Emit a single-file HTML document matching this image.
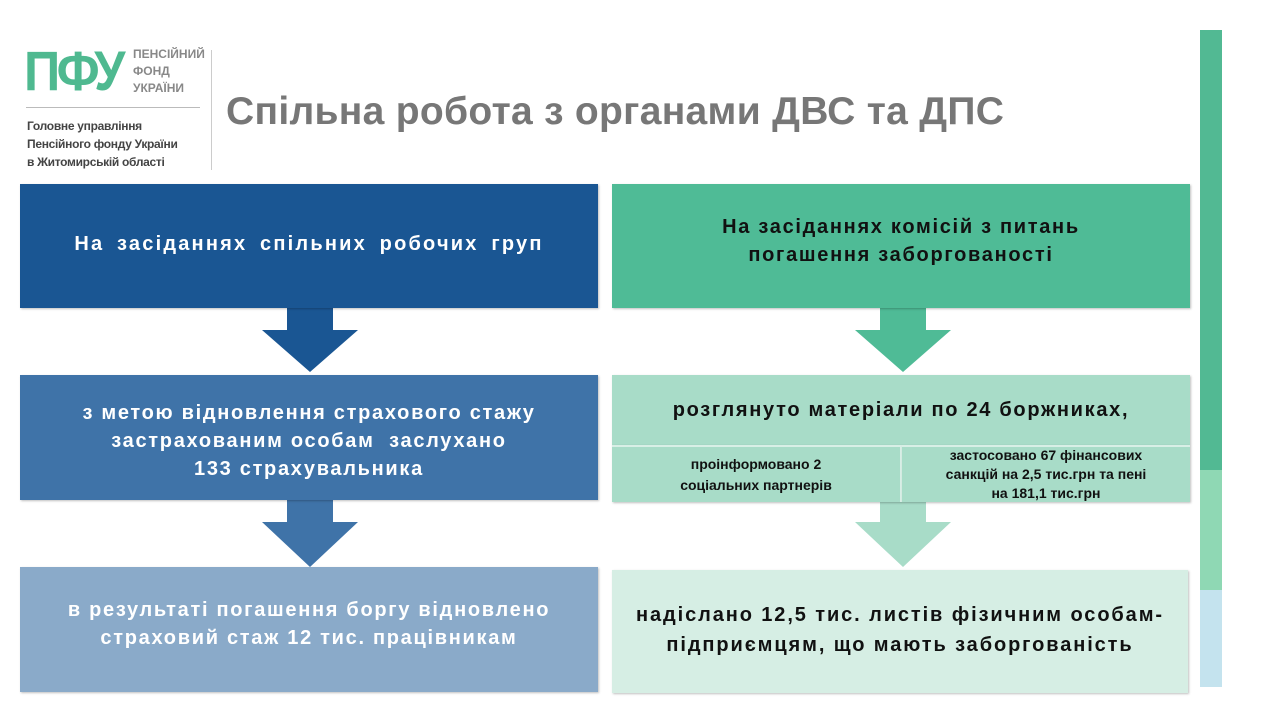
<!DOCTYPE html>
<html><head><meta charset="utf-8"><style>
body{margin:0;width:1280px;height:720px;background:#fff;position:relative;overflow:hidden;font-family:"Liberation Sans","DejaVu Sans",sans-serif}
.a{position:absolute}
.box{position:absolute;display:flex;align-items:center;justify-content:center;text-align:center;font-weight:bold;box-sizing:border-box;box-shadow:1px 1px 2px rgba(0,0,0,.25);white-space:nowrap}
.w{color:#fff;font-size:20px;line-height:28px;letter-spacing:1.7px}
.k{color:#111;font-size:20px;letter-spacing:1.7px}
</style></head><body>
<div class="a" style="left:24px;top:40px;font-size:56px;font-weight:bold;color:#4fb990;letter-spacing:-4px;line-height:62px;transform:scaleX(0.9);transform-origin:left">ПФУ</div>
<div class="a" style="left:133px;top:46px;font-size:12px;font-weight:bold;color:#888;line-height:17px">ПЕНСІЙНИЙ<br>ФОНД<br>УКРАЇНИ</div>
<div class="a" style="left:26px;top:107px;width:174px;height:1px;background:#bbb"></div>
<div class="a" style="left:27px;top:117px;font-size:12px;font-weight:bold;color:#444;line-height:18px;letter-spacing:-0.3px">Головне управління<br>Пенсійного фонду України<br>в Житомирській області</div>
<div class="a" style="left:211px;top:50px;width:1px;height:120px;background:#ccc"></div>
<div class="a" style="left:226px;top:90px;font-size:39px;font-weight:bold;color:#777;letter-spacing:0.3px">Спільна робота з органами ДВС та ДПС</div>
<div class="a" style="left:1200px;top:30px;width:22px;height:440px;background:#52b993"></div>
<div class="a" style="left:1200px;top:470px;width:22px;height:120px;background:#8fd8b4"></div>
<div class="a" style="left:1200px;top:590px;width:22px;height:97px;background:#c4e3ee"></div>
<svg class="a" style="left:0;top:0" width="1280" height="720">
<path d="M287 305h46v25h25l-48 42-48-42h25z" fill="#1a5693"/>
<path d="M287 498h46v24h25l-48 45-48-45h25z" fill="#3f73a8"/>
<path d="M880 305h46v25h25l-48 42-48-42h25z" fill="#4fbb96"/>
<path d="M880 500h46v22h25l-48 45-48-45h25z" fill="#a8dcc8"/>
</svg>
<div class="box w" style="left:20px;top:184px;width:578px;height:124px;background:#1a5693;padding-bottom:5px;letter-spacing:2.2px;word-spacing:5px">На засіданнях спільних робочих груп</div>
<div class="box w" style="left:20px;top:375px;width:578px;height:125px;background:#3f73a8;align-items:flex-start;padding-top:24px">з метою відновлення страхового стажу<br>застрахованим особам&nbsp; заслухано<br>133 страхувальника</div>
<div class="box w" style="left:20px;top:567px;width:578px;height:125px;background:#8aaac9;padding-bottom:12px">в результаті погашення боргу відновлено<br>страховий стаж 12 тис. працівникам</div>
<div class="box k" style="left:612px;top:184px;width:578px;height:124px;background:#4fbb96;line-height:28px;padding-bottom:10px">На засіданнях комісій з питань<br>погашення заборгованості</div>
<div class="box k" style="left:612px;top:375px;width:578px;height:70px;background:#a8dcc8">розглянуто матеріали по 24 боржниках,</div>
<div class="box k" style="left:612px;top:445px;width:290px;height:57px;background:#a8dcc8;font-size:14px;line-height:21px;letter-spacing:0;border-top:2px solid #d8efe6;border-right:2px solid #d8efe6">проінформовано 2<br>соціальних партнерів</div>
<div class="box k" style="left:902px;top:445px;width:288px;height:57px;background:#a8dcc8;font-size:14px;line-height:19px;letter-spacing:0;border-top:2px solid #d8efe6">застосовано 67 фінансових<br>санкцій на 2,5 тис.грн та пені<br>на 181,1 тис.грн</div>
<div class="box k" style="left:612px;top:570px;width:576px;height:123px;background:#d6eee4;line-height:30px;padding-bottom:4px;letter-spacing:1.9px">надіслано 12,5 тис. листів фізичним особам-<br>підприємцям, що мають заборгованість</div>
</body></html>
